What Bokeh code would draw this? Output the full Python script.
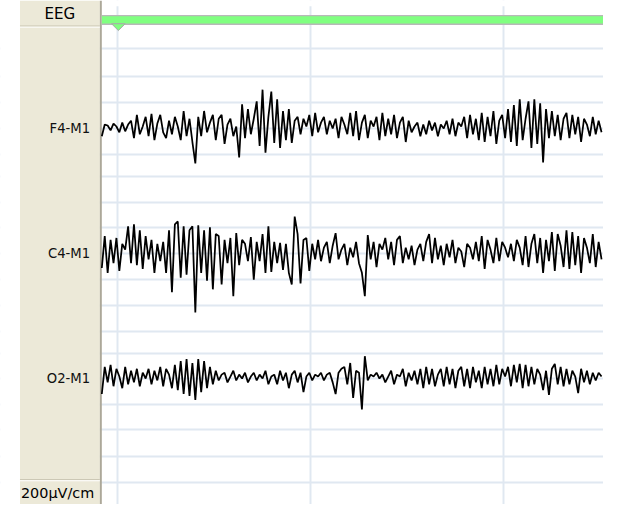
import numpy as np
from bokeh.plotting import figure
from bokeh.models import Range1d, FixedTicker
from bokeh.embed import file_html
from bokeh.resources import INLINE
from bokeh.core.properties import value

# ---------------- data ----------------
header_label = "EEG"
scale_label = "200µV/cm"
channels = ["F4-M1", "C4-M1", "O2-M1"]

# amplitudes (upward positive), one sample every 3 px of screen time
f4_m1 = [-8, 4, 3, -2, 5, 2, -4, 6, -3, 4,
         8, -10, 14, -6, 2, 12, -8, 15, -12, 5,
         14, -4, -10, 8, -6, 12, 2, -12, 18, -8,
         10, -14, -36, 12, -8, 18, -4, 6, 14, -12,
         10, 14, -16, 4, 10, -8, 2, -30, 25, -10,
         20, -6, 10, 28, -18, 40, -25, 12, 38, -15,
         30, -20, 18, -12, 20, -15, 8, 12, -6, 10,
         2, 14, -8, 16, -4, 6, 12, -6, 8, 0,
         10, -10, 12, 4, -6, 16, -8, 18, -12, 6,
         14, -10, 8, 2, 12, -12, 16, -8, 10, -6,
         14, -10, 6, 12, -14, 8, -4, 2, 6, -8,
         4, -6, 8, -2, 6, -8, 4, 0, 8, -6,
         10, -8, 6, 2, 12, -10, 14, -6, 10, -12,
         16, -14, 12, -8, 18, -16, 8, 14, -10, 20,
         -14, 24, -18, 30, -12, 10, 28, -20, 30, -16,
         26, -35, 20, -10, 18, -8, 14, -12, 10, 16,
         -10, 14, -6, 12, -14, 10, 4, -8, 12, -6,
         8, -4]

c4_m1 = [-15, 18, -20, 14, -10, 16, -18, 10, 4, 28,
         -10, 30, -12, 24, -16, 18, -6, 14, -20, 10,
         -8, 12, -20, 24, -40, 30, 33, -25, 28, -22,
         24, 28, -61, 29, -20, 24, -28, 27, -37, 20,
         18, -32, 14, -10, 16, -44, 21, -12, 14, 10,
         -8, 17, -27, 12, -8, 20, -20, 28, -19, 12,
         -10, 11, -17, 10, -20, -32, 38, 20, -31, 14,
         16, -18, 10, -6, 14, -8, 6, 12, -10, 8,
         21, -6, 4, 10, -12, 6, -4, 12, -10, -20,
         -44, 19, -6, 12, -14, 10, 4, 16, -6, 12,
         -12, 14, 18, -10, 6, -6, 8, -12, 4, 10,
         -8, 12, 20, -10, 16, -6, 8, -12, 10, -4,
         14, -10, 6, 2, -14, 10, 6, -6, 12, -8,
         18, -16, 14, 4, -10, 16, -8, 12, 6, -4,
         10, -8, 14, 6, -12, 18, -14, 10, 20, -10,
         16, -20, 14, -8, 22, -18, 20, 8, -14, 24,
         -16, 22, -12, 18, -20, 16, 6, -10, 20, -14,
         12, -6]

o2_m1 = [-16, 12, -4, 14, -8, 10, 2, -10, 12, -6,
         8, -4, 10, -8, 6, 0, 10, -6, 8, -2,
         12, -8, 10, 4, -10, 14, -12, 18, -16, 20,
         -18, 16, -22, 20, -14, 18, -10, 12, -6, 8,
         -2, 4, 6, -4, 2, 8, -2, 4, 0, 6,
         -4, 2, 6, -2, 4, 0, 8, -6, 2, 4,
         -6, 8, -2, 6, -10, 4, 8, -4, 6, -14,
         2, 6, -2, 4, 2, 6, -2, 4, 6, -4,
         -16, 6, 10, 12, -6, 16, -20, 8, 6, -32,
         23, -2, 4, 2, 6, 0, 4, -4, 2, 8,
         -6, 4, 2, 10, -8, 6, -2, 8, -6, 10,
         -10, 12, -6, 10, -8, 4, 10, -8, 12, -6,
         10, -10, 8, 12, -8, 10, -10, 12, -4, 8,
         -10, 12, -6, 10, -8, 14, -6, 10, 2, 12,
         -8, 14, -4, 15, -10, 14, -8, 12, -6, 10,
         4, -12, 8, -17, 10, 15, -6, 12, -8, 10,
         -6, 8, 2, -15, 10, -4, 8, -6, 6, -2,
         6, 2]

traces = [f4_m1, c4_m1, o2_m1]

# ---------------- layout (reference pixel space) ----------------
REF_W, REF_H = 619, 520
FIG_W, FIG_H = 603, 504
S = FIG_W / REF_W

panel_left, panel_right = 20, 102
plot_left = 104
channel_centres = [132, 261, 390]
sample_step = 3
v_grid = [120, 318, 516]
h_grid = [50, 78, 105, 132, 159, 182, 208, 234, 261, 288, 315, 342, 364,
          390, 417, 443, 470, 497]

BEIGE = "#ECE9D8"
GRID = "#E0E8F1"
GREEN = "#80FF80"

p = figure(width=FIG_W, height=FIG_H,
           x_range=Range1d(0, REF_W), y_range=Range1d(REF_H, 0),
           output_backend="svg", toolbar_location=None, min_border=0)
p.axis.visible = False
p.outline_line_color = None
p.background_fill_color = "white"
p.border_fill_color = "white"

p.xgrid.ticker = FixedTicker(ticks=v_grid)
p.ygrid.ticker = FixedTicker(ticks=h_grid)
p.grid.grid_line_color = GRID
p.grid.grid_line_width = 2 * S

# cover grid outside the trace area
p.quad(left=[0], right=[panel_left], top=[0], bottom=[REF_H],
       fill_color="white", line_color=None)
p.quad(left=[plot_left], right=[REF_W], top=[0], bottom=[6],
       fill_color="white", line_color=None)

# left label panel
p.quad(left=[panel_left], right=[panel_right], top=[0], bottom=[REF_H],
       fill_color=BEIGE, line_color=None)
p.segment(x0=[panel_right + 1], y0=[0], x1=[panel_right + 1], y1=[REF_H],
          line_color="#ACA899", line_width=2 * S)
for yy in (27, 495):
    p.segment(x0=[panel_left], y0=[yy - 0.7], x1=[panel_right], y1=[yy - 0.7],
              line_color="#C9C5B2", line_width=1)
    p.segment(x0=[panel_left], y0=[yy + 0.5], x1=[panel_right], y1=[yy + 0.5],
              line_color="white", line_width=1)

# green bar + marker
p.quad(left=[plot_left], right=[REF_W], top=[15], bottom=[25],
       fill_color=GREEN, line_color=None)
for yy in (15.5, 24.5):
    p.segment(x0=[plot_left], y0=[yy], x1=[REF_W], y1=[yy],
              line_color="#B8B8B8", line_width=1.3 * S)
p.patch(x=[114, 121, 128], y=[24, 31, 24], fill_color=GREEN,
        line_color="#A8A8A8", line_width=1)

# traces
for amp, yc in zip(traces, channel_centres):
    a = np.asarray(amp, dtype=float)
    xs = plot_left + sample_step * np.arange(len(a))
    p.line(xs, yc - a, line_color="black", line_width=1.8 * S)

# texts
font = value("DejaVu Sans")
p.text(x=[(panel_left + panel_right) / 2], y=[14], text=[header_label],
       text_align="center", text_baseline="middle", text_font=font,
       text_font_size=f"{15.5 * S:.1f}px", text_color="black")
p.text(x=[92] * 3, y=channel_centres, text=channels,
       text_align="right", text_baseline="middle", text_font=font,
       text_font_size=f"{13.5 * S:.1f}px", text_color="#111111")
p.text(x=[21], y=[508], text=[scale_label],
       text_align="left", text_baseline="middle", text_font=font,
       text_font_size=f"{14.8 * S:.1f}px", text_color="black")

open("out.html", "w").write(file_html(p, INLINE))
